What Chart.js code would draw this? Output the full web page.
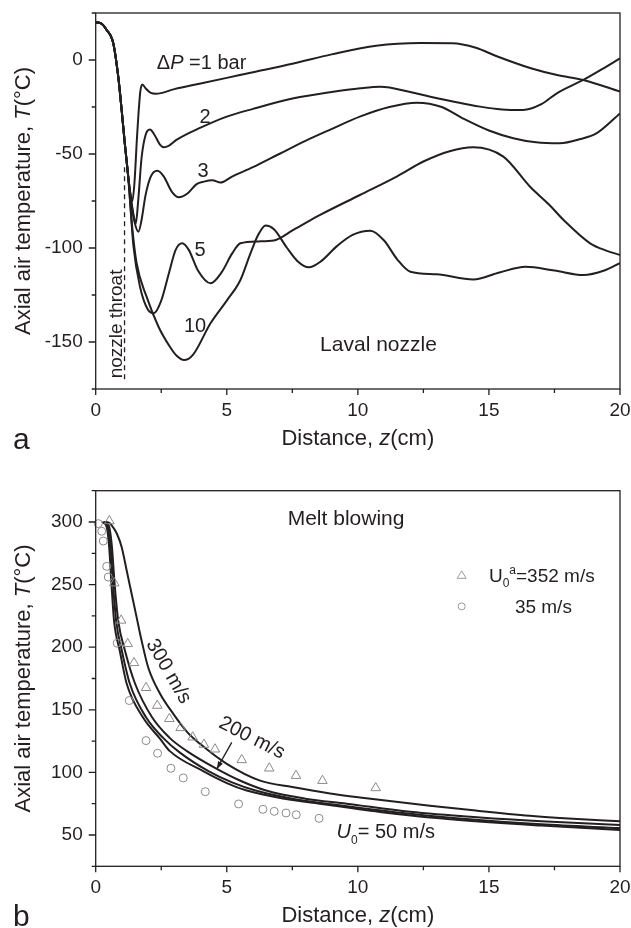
<!DOCTYPE html>
<html>
<head>
<meta charset="utf-8">
<script src="https://cdn.jsdelivr.net/npm/chart.js@4.4.1/dist/chart.umd.min.js"></script>
<style>
  html, body { margin: 0; padding: 0; background: #fff; }
  #wrap { position: relative; width: 631px; height: 928px; }
  canvas { position: absolute; left: 0; }
  #chartA { top: 0; }
  #chartB { top: 455px; }
</style>
</head>
<body>
<div id="wrap">
  <canvas id="chartA" width="631" height="455"></canvas>
  <canvas id="chartB" width="631" height="473"></canvas>
</div>
<script>
// ---- panel a: Laval nozzle, one curve per pressure drop ----
const z1 = [0, 0.2, 0.42, 0.67, 0.86, 0.99, 1.11, 1.24, 1.32, 1.4, 1.48, 1.58, 1.7, 1.78, 1.9, 2.1, 2.3, 3, 4, 5, 6, 7.5, 9, 10.7, 12.4, 13.6, 14.5, 15.3, 16.6, 17.6, 18.6, 20];
const t1 = [20, 19.5, 16, 8.9, -8.9, -26.6, -44.3, -62, -71, -75, -65, -40, -17, -13, -15, -17.5, -18, -15.5, -12.5, -9.5, -6.5, -2, 3, 7.6, 9, 8.9, 6.5, 2, -4.4, -8, -10.6, -16.8];

const z2 = [0, 0.2, 0.42, 0.67, 0.86, 0.99, 1.11, 1.24, 1.35, 1.45, 1.53, 1.62, 1.75, 1.9, 2.07, 2.25, 2.45, 2.6, 2.8, 3.08, 4, 5, 6, 7.55, 9, 10.1, 10.86, 12, 12.76, 14.66, 15.5, 16.3, 17, 17.59, 18.6, 19.3, 20];
const t2 = [20, 19.5, 16, 8.9, -8.9, -26.6, -44.3, -62, -74, -83, -87, -75, -52, -40, -37, -40, -45, -46.4, -45.5, -42.5, -36, -30.1, -26, -20.4, -17, -15, -14.2, -17, -19.5, -24.8, -26.3, -26.6, -23.5, -17.7, -10.6, -5, 0.9];

const z3 = [0, 0.2, 0.42, 0.67, 0.86, 0.99, 1.11, 1.24, 1.35, 1.48, 1.63, 1.75, 1.9, 2.1, 2.35, 2.6, 2.9, 3.17, 3.5, 3.85, 4.13, 4.45, 4.76, 5.2, 6, 7, 8, 8.95, 10.1, 11.2, 12.25, 13.2, 14, 15, 15.93, 16.8, 17.7, 18.5, 19.1, 20];
const t3 = [20, 19.5, 16, 8.9, -8.9, -26.6, -44.3, -62, -75, -86, -91.3, -85, -72, -62, -58.9, -62, -70, -73, -71, -66, -64.7, -64, -65.2, -62, -57, -50, -43, -37, -30, -25, -22.7, -25, -31, -37.5, -41.6, -43.8, -44.3, -42, -39, -28.4];

const z5 = [0, 0.2, 0.42, 0.67, 0.86, 0.99, 1.11, 1.24, 1.44, 1.69, 2.0, 2.22, 2.5, 2.8, 3.05, 3.3, 3.55, 3.9, 4.38, 4.8, 5.2, 5.52, 6.2, 6.8, 7.54, 8.56, 10.08, 11.48, 12.5, 13.5, 14.4, 15.55, 16.57, 17.3, 17.84, 18.86, 19.5, 20];
const t5 = [20, 19.5, 16, 8.9, -8.9, -26.6, -44.3, -62, -99, -120.6, -133, -134.7, -128, -113, -101, -97.5, -101, -112, -118.8, -113, -103, -97.5, -96.5, -96, -90.4, -82.4, -71.8, -62, -54, -48.5, -46.4, -51.4, -67.4, -77, -85, -97.5, -101.5, -103.7];

const z10 = [0, 0.2, 0.42, 0.67, 0.86, 0.99, 1.11, 1.24, 1.4, 1.56, 1.94, 2.4, 2.83, 3.1, 3.37, 3.7, 4.38, 5.0, 5.52, 5.9, 6.2, 6.48, 6.8, 7.3, 7.7, 8.13, 8.6, 9.2, 9.8, 10.48, 11.0, 11.5, 12.0, 13.0, 14.4, 15.4, 16.4, 17.5, 18.6, 19.4, 20];
const t10 = [20, 19.5, 16, 8.9, -8.9, -26.6, -44.3, -62, -90, -108, -125.9, -142, -152.5, -157.5, -159.6, -157, -140, -128, -117, -103, -93, -88, -90, -100, -107, -110.3, -107, -99, -93, -90.8, -96, -106, -112.6, -114, -116.7, -113, -110, -112, -114.4, -112, -108];

const throatZ = [1.1, 1.1];
const throatT = [-57, -172];

// ---- panel b: melt blowing ----
const z300 = [0.35, 0.5, 0.61, 0.8, 0.99, 1.18, 1.37, 1.56, 1.75, 2.0, 2.45, 2.96, 3.5, 3.98, 5.0, 6.27, 7.5, 8.94, 10.08, 12.75, 14.5, 16.56, 18.2, 20];
const u300 = [300, 299.5, 297.4, 291, 280, 261.4, 242.7, 224, 205.4, 184, 163, 146.8, 132, 122.8, 106.8, 93.4, 88.3, 83.2, 80, 73.4, 69.5, 65.4, 63, 60.9];

const z200 = [0.3, 0.5, 0.62, 0.72, 0.86, 1.12, 1.5, 2.15, 2.8, 3.48, 4.62, 5.5, 6.5, 8, 9.57, 12, 14.66, 17, 20];
const u200 = [300, 297, 280, 251, 221, 197, 171, 144, 128, 117, 102.8, 93.5, 85.5, 79, 75, 68.5, 64, 61, 58];

const z100 = [0.28, 0.46, 0.57, 0.66, 0.78, 1.0, 1.3, 1.92, 2.6, 3.2, 4.3, 5.2, 6.1, 7.5, 9.0, 11.5, 14, 17, 20];
const u100 = [300, 296.5, 279, 251, 221, 197, 171, 144, 127, 116, 101, 92, 85.5, 79, 74.5, 68, 63, 58.5, 55.5];

const z50 = [0.25, 0.42, 0.52, 0.6, 0.7, 0.92, 1.18, 1.8, 2.45, 2.83, 4.1, 5.0, 5.76, 7.2, 8.56, 11, 12.75, 17, 20];
const u50 = [300, 296, 278, 251, 221, 197, 171, 144, 127, 117, 101, 91.5, 85.5, 79, 75, 68, 64, 57.5, 54];

// measured points
const triZ = [0.52, 0.71, 0.97, 1.22, 1.46, 1.92, 2.35, 2.81, 3.24, 3.70, 4.13, 4.55, 5.57, 6.62, 7.64, 8.65, 10.68];
const triT = [300.8, 251.2, 221.4, 202.7, 187.5, 167.6, 153.4, 142.8, 135.6, 128.1, 122.2, 118.5, 110, 103.3, 97.4, 93.4, 87.6];
const cirZ = [0.10, 0.23, 0.29, 0.42, 0.48, 0.82, 1.28, 1.92, 2.36, 2.87, 3.34, 4.18, 5.45, 6.38, 6.81, 7.26, 7.65, 8.52];
const cirT = [298.7, 292.6, 284.8, 264.6, 256, 203.2, 157.4, 125.4, 115.3, 103.3, 95.6, 84.6, 74.8, 70.5, 68.9, 67.6, 66.2, 63.3];

// ---- ticks ----
const zTicks = [0, 2.5, 5, 7.5, 10, 12.5, 15, 17.5, 20];
const zTickLabels = ['0', '', '5', '', '10', '', '15', '', '20'];
const tTicksA = [-175, -150, -125, -100, -75, -50, -25, 0, 25];
const tTickLabelsA = ['', '-150', '', '-100', '', '-50', '', '0', ''];
const tTicksB = [25, 50, 75, 100, 125, 150, 175, 200, 225, 250, 275, 300, 325];
const tTickLabelsB = ['', '50', '', '100', '', '150', '', '200', '', '250', '', '300', ''];

const INK = '#231f20';
const MARK = '#8a8a8a';
const FONT = '"Liberation Sans", Arial, Helvetica, sans-serif';

function pts(xs, ys) {
  return xs.map((v, i) => ({ x: v, y: ys[i] }));
}

function curve(xs, ys) {
  return {
    data: pts(xs, ys), borderColor: INK, borderWidth: 2, pointRadius: 0,
    fill: false, showLine: true, cubicInterpolationMode: 'monotone'
  };
}

// text with italic / sub / sup pieces; y is the vertical centre of capitals
function rich(ctx, parts, x, y, align, size) {
  let w = 0;
  const segs = parts.map(([t, s]) => {
    const small = s === 'sub' || s === 'sup';
    const fs = small ? Math.round(size * 0.62) : size;
    const font = (s === 'i' ? 'italic ' : '') + fs + 'px ' + FONT;
    ctx.font = font;
    const seg = { t, font, x: w, dy: s === 'sub' ? size * 0.28 : (s === 'sup' ? -size * 0.42 : 0) };
    w += ctx.measureText(t).width;
    return seg;
  });
  const x0 = align === 'center' ? x - w / 2 : (align === 'right' ? x - w : x);
  ctx.textAlign = 'left';
  ctx.textBaseline = 'alphabetic';
  const base = y + size * 0.36;
  segs.forEach(s => { ctx.font = s.font; ctx.fillText(s.t, x0 + s.x, base + s.dy); });
}

function axisX(h) {
  return {
    type: 'linear', min: 0, max: 20,
    afterBuildTicks: s => { s.ticks = zTicks.map(v => ({ value: v })); },
    afterFit: s => { s.height = h; s.paddingLeft = s.paddingRight = s.paddingTop = s.paddingBottom = 0; },
    grid: { display: false, drawTicks: false },
    border: { display: false },
    ticks: {
      autoSkip: false, maxRotation: 0, padding: 10, color: INK,
      font: { size: 19, family: FONT },
      callback: (v, i) => zTickLabels[i]
    }
  };
}

function axisY(min, max, vals, labels) {
  return {
    type: 'linear', min: min, max: max,
    afterBuildTicks: s => { s.ticks = vals.map(v => ({ value: v })); },
    afterFit: s => { s.width = 95.7; s.paddingLeft = s.paddingRight = s.paddingTop = s.paddingBottom = 0; },
    grid: { display: false, drawTicks: false },
    border: { display: false },
    ticks: {
      autoSkip: false, padding: 13, color: INK,
      font: { size: 19, family: FONT },
      callback: (v, i) => labels[i]
    }
  };
}

const framePlugin = {
  id: 'frame',
  afterDatasetsDraw(chart, args, o) {
    const { ctx, chartArea: a, scales } = chart;
    const sx = scales.x, sy = scales.y;
    ctx.save();
    ctx.strokeStyle = INK;
    ctx.lineWidth = 1.3;
    ctx.strokeRect(a.left, a.top, a.right - a.left, a.bottom - a.top);
    ctx.beginPath();
    zTicks.forEach((v, i) => {
      const p = sx.getPixelForValue(v);
      const len = zTickLabels[i] ? 6 : 4;
      ctx.moveTo(p, a.bottom); ctx.lineTo(p, a.bottom + len);
    });
    o.yTicks.forEach((v, i) => {
      const p = sy.getPixelForValue(v);
      const len = o.yLabels[i] ? 7 : 4;
      ctx.moveTo(a.left, p); ctx.lineTo(a.left - len, p);
    });
    ctx.stroke();

    ctx.fillStyle = INK;
    rich(ctx, [['Distance, '], ['z', 'i'], ['(cm)']], (a.left + a.right) / 2, a.bottom + 48, 'center', 22);
    ctx.font = '30px ' + FONT;
    ctx.textAlign = 'left';
    ctx.textBaseline = 'alphabetic';
    ctx.fillText(o.letter, 13, a.bottom + 60);
    ctx.translate(22, (a.top + a.bottom) / 2);
    ctx.rotate(-Math.PI / 2);
    rich(ctx, [['Axial air temperature, '], ['T', 'i'], ['(°C)']], 0, 0, 'center', 22);
    ctx.restore();
  }
};

const notesA = {
  id: 'notesA',
  afterDraw(chart) {
    const { ctx, scales: { x, y } } = chart;
    const px = v => x.getPixelForValue(v), py = v => y.getPixelForValue(v);
    ctx.save();
    ctx.fillStyle = INK;
    rich(ctx, [['Δ'], ['P', 'i'], [' =1 bar']], px(2.33), py(-1), 'left', 20);
    rich(ctx, [['2']], px(4.17), py(-29.8), 'center', 20);
    rich(ctx, [['3']], px(4.1), py(-58.5), 'center', 20);
    rich(ctx, [['5']], px(3.98), py(-100.2), 'center', 20);
    rich(ctx, [['10']], px(3.79), py(-141), 'center', 20);
    rich(ctx, [['Laval nozzle']], px(8.56), py(-150.7), 'left', 21);
    ctx.translate(px(0.74), py(-140.4));
    ctx.rotate(-Math.PI / 2);
    rich(ctx, [['nozzle throat']], 0, 0, 'center', 19);
    ctx.restore();
  }
};

const notesB = {
  id: 'notesB',
  afterDraw(chart) {
    const { ctx, scales: { x, y } } = chart;
    const px = v => x.getPixelForValue(v), py = v => y.getPixelForValue(v);
    ctx.save();
    ctx.fillStyle = INK;
    ctx.strokeStyle = INK;
    rich(ctx, [['Melt blowing']], px(9.55), py(303.8), 'center', 21);

    ctx.save();
    ctx.translate(px(2.83), py(181.3));
    ctx.rotate(60 * Math.PI / 180);
    rich(ctx, [['300 m/s']], 0, 0, 'center', 20);
    ctx.restore();

    ctx.save();
    ctx.translate(px(5.99), py(128.6));
    ctx.rotate(27 * Math.PI / 180);
    rich(ctx, [['200 m/s']], 0, 0, 'center', 20);
    ctx.restore();

    // arrow to the 200 m/s curve
    const x1 = px(5.19), y1 = py(124), x2 = px(4.62), y2 = py(102.8);
    ctx.lineWidth = 1.3;
    ctx.beginPath(); ctx.moveTo(x1, y1); ctx.lineTo(x2, y2); ctx.stroke();
    const ang = Math.atan2(y2 - y1, x2 - x1);
    ctx.beginPath();
    ctx.moveTo(x2, y2);
    ctx.lineTo(x2 - 8 * Math.cos(ang - 0.35), y2 - 8 * Math.sin(ang - 0.35));
    ctx.lineTo(x2 - 8 * Math.cos(ang + 0.35), y2 - 8 * Math.sin(ang + 0.35));
    ctx.closePath(); ctx.fill();

    rich(ctx, [['U', 'i'], ['0', 'sub'], ['= 50 m/s']], px(9.19), py(53.4), 'left', 20);

    // legend
    const lx = px(13.96), ly1 = py(257.4), ly2 = py(232.6);
    ctx.strokeStyle = '#9a9a9a';
    ctx.lineWidth = 1;
    ctx.beginPath();
    ctx.moveTo(lx, ly1 - 4.5); ctx.lineTo(lx + 4.5, ly1 + 3); ctx.lineTo(lx - 4.5, ly1 + 3); ctx.closePath();
    ctx.stroke();
    ctx.beginPath(); ctx.arc(lx, ly2, 3.5, 0, Math.PI * 2); ctx.stroke();
    rich(ctx, [['U'], ['0', 'sub'], ['a', 'sup'], ['=352 m/s']], px(15.0), ly1, 'left', 19);
    rich(ctx, [['35 m/s']], px(15.99), ly2, 'left', 19);
    ctx.restore();
  }
};

const dashed = {
  data: pts(throatZ, throatT), borderColor: INK, borderWidth: 1.3, borderDash: [5, 4],
  pointRadius: 0, fill: false, showLine: true, tension: 0
};

new Chart(document.getElementById('chartA'), {
  type: 'line',
  data: {
    datasets: [curve(z1, t1), curve(z2, t2), curve(z3, t3), curve(z5, t5), curve(z10, t10), dashed]
  },
  options: {
    responsive: false, animation: false, events: [],
    layout: { padding: { left: 0, right: 11, top: 13, bottom: 0 } },
    plugins: {
      legend: { display: false }, tooltip: { enabled: false },
      frame: { yTicks: tTicksA, yLabels: tTickLabelsA, letter: 'a' }
    },
    scales: { x: axisX(66), y: axisY(-175, 25, tTicksA, tTickLabelsA) }
  },
  plugins: [framePlugin, notesA]
});

new Chart(document.getElementById('chartB'), {
  type: 'line',
  data: {
    datasets: [
      { data: pts(triZ, triT), showLine: false, pointStyle: 'triangle', pointRadius: 5.5,
        pointBorderColor: MARK, pointBackgroundColor: 'rgba(255,255,255,0)', pointBorderWidth: 1, clip: false },
      { data: pts(cirZ, cirT), showLine: false, pointStyle: 'circle', pointRadius: 4,
        pointBorderColor: MARK, pointBackgroundColor: 'rgba(255,255,255,0)', pointBorderWidth: 1, clip: false },
      curve(z300, u300), curve(z200, u200), curve(z100, u100), curve(z50, u50)
    ]
  },
  options: {
    responsive: false, animation: false, events: [],
    layout: { padding: { left: 0, right: 11, top: 35.7, bottom: 0 } },
    plugins: {
      legend: { display: false }, tooltip: { enabled: false },
      frame: { yTicks: tTicksB, yLabels: tTickLabelsB, letter: 'b' }
    },
    scales: { x: axisX(61.7), y: axisY(25, 325, tTicksB, tTickLabelsB) }
  },
  plugins: [framePlugin, notesB]
});
</script>
</body>
</html>
